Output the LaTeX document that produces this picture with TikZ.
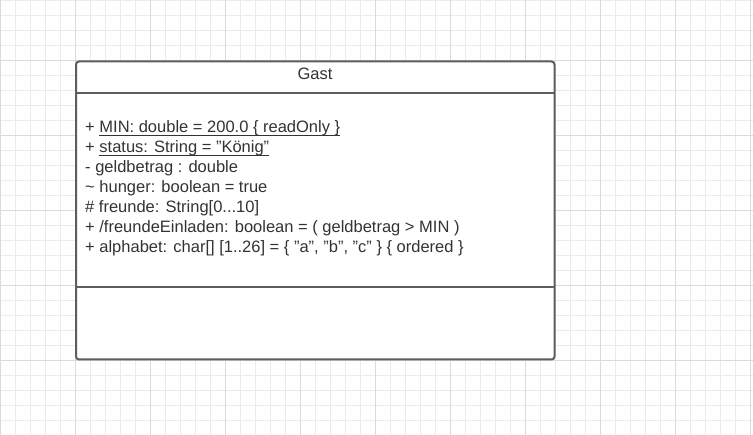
\documentclass[tikz,border=0pt]{standalone}
\usepackage{fontspec}
\setmainfont{Liberation Sans}
\newsavebox{\ulbox}
\newcommand{\ulined}[1]{\sbox{\ulbox}{#1}\rlap{\rule[-3pt]{\wd\ulbox}{1pt}}\usebox{\ulbox}}
\newcommand{\qt}{\symbol{34}}

\begin{document}
\begin{tikzpicture}[x=1pt,y=-1pt,
        gridminor/.style={draw=black!8, line width=1pt},
        gridmajor/.style={draw=black!14, line width=1pt},
        classline/.style={draw=black!63, line width=2pt},
        member/.style={anchor=base west, inner sep=0pt, text=black!80, font=\fontsize{16.5}{20}\selectfont}]

        \useasboundingbox (0,0) rectangle (753,435);
        \fill[white] (0,0) rectangle (753,435);

        % background grid
        \foreach \gx in {0,15,...,750}
            \draw[gridminor] (\gx+0.3,0) -- (\gx+0.3,435);
        \foreach \gy in {0,15,...,435}
            \draw[gridminor] (0,\gy+0.3) -- (753,\gy+0.3);
        \foreach \gx in {0,75,...,750}
            \draw[gridmajor] (\gx+0.3,0) -- (\gx+0.3,435);
        \foreach \gy in {60,135,...,435}
            \draw[gridmajor] (0,\gy+0.3) -- (753,\gy+0.3);

        % class box
        \fill[white, rounded corners=3pt] (76,61.5) rectangle (554.5,359.5);
        \draw[classline, rounded corners=3pt] (76,61.5) rectangle (554.5,359.5);
        \draw[classline] (76,93) -- (554.5,93);
        \draw[classline] (76,287) -- (554.5,287);

        \node[member, anchor=base] (name) at (315,80) {Gast};

        \node[member] (min) at (85,133) {+ \ulined{MIN: double = 200.0 \{ readOnly \}}};
        \node[member] (status) at (85,153) {+ \ulined{status: String = \qt K\"onig\qt}};
        \node[member] (geld) at (85,173) {- geldbetrag : double};
        \node[member] (hunger) at (85,193) {\textasciitilde{} hunger: boolean = true};
        \node[member] (freunde) at (85,213) {\# freunde: String[0...10]};
        \node[member] (einladen) at (85,233) {+ /freundeEinladen: boolean = ( geldbetrag > MIN )};
        \node[member] (alphabet) at (85,253) {+ alphabet: char[] [1..26] = \{ \qt a\qt, \qt b\qt, \qt c\qt\ \} \{ ordered \}};

    \end{tikzpicture}
\end{document}
